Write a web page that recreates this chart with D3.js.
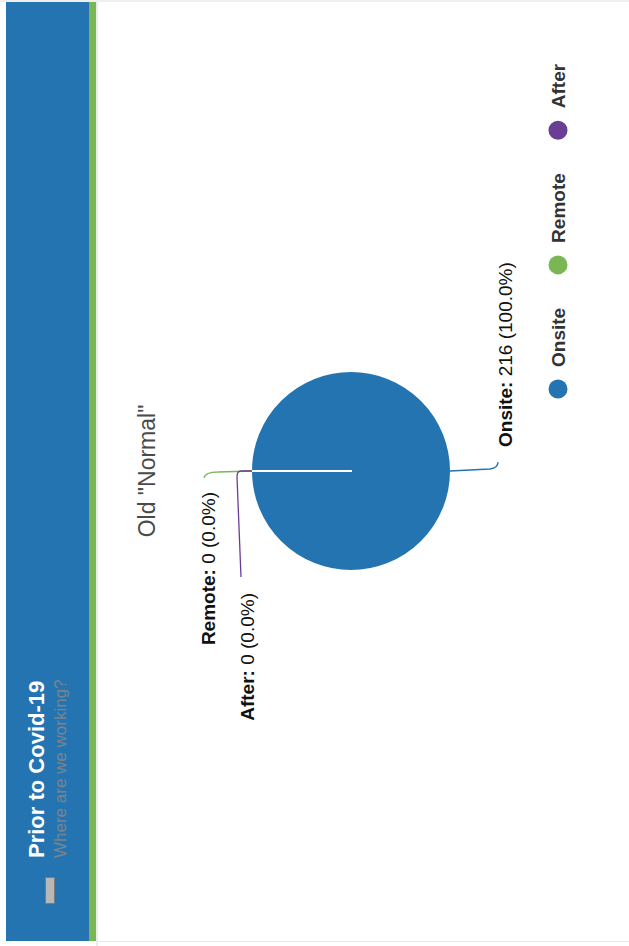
<!DOCTYPE html>
<html>
<head>
<meta charset="utf-8">
<script src="https://cdn.jsdelivr.net/npm/d3@7/dist/d3.min.js"></script>
<style>
  html, body { margin: 0; padding: 0; background: #fff; }
  svg { display: block; }
  text { font-family: "Liberation Sans", Arial, Helvetica, sans-serif; }
</style>
</head>
<body>
<script>
// Work arrangement counts
const categories = ["Onsite", "Remote", "After"];
const values = [216, 0, 0];
const colors = ["#2574b2", "#7bb655", "#6b3e96"];
const chartTitle = 'Old "Normal"';
const headerTitle = "Prior to Covid-19";
const headerSubtitle = "Where are we working?";

const W = 629, H = 946;       // window size
const PW = 946, PH = 629;     // landscape page drawn sideways

const svg = d3.select("body").append("svg")
  .attr("width", W).attr("height", H);

// The landscape page is turned a quarter turn counter-clockwise
const page = svg.append("g")
  .attr("transform", `translate(0,${H}) rotate(-90)`);

// page frame
page.append("rect").attr("x", 0).attr("y", 0).attr("width", PW).attr("height", PH).attr("fill", "#fff");
page.append("rect").attr("x", PW - 2).attr("y", 0).attr("width", 2).attr("height", PH).attr("fill", "#efefef");
page.append("rect").attr("x", 0).attr("y", 96).attr("width", PW - 2).attr("height", 2).attr("fill", "#ececec");
page.append("rect").attr("x", 4).attr("y", 98).attr("width", 1).attr("height", PH - 98).attr("fill", "#e6e6e6");

// header band
page.append("rect").attr("x", 5).attr("y", 6).attr("width", PW - 7).attr("height", 83).attr("fill", "#2574b2");
page.append("rect").attr("x", 5).attr("y", 89).attr("width", PW - 7).attr("height", 7).attr("fill", "#7bb655");
page.append("rect").attr("x", 42.5).attr("y", 45.5).attr("width", 26).attr("height", 9)
  .attr("fill", "#b8b8b8").attr("stroke", "#7a7a7a").attr("stroke-width", 1);
page.append("text").attr("x", 88).attr("y", 44)
  .attr("font-size", 22).attr("font-weight", "bold").attr("fill", "#fff")
  .text(headerTitle);
page.append("text").attr("x", 88).attr("y", 66)
  .attr("font-size", 17).attr("fill", "#7b848d")
  .text(headerSubtitle);

// pie
const cx = 475, cy = 351, R = 100;
const pieGen = d3.pie().sort(null).value(d => d.value);
const arcGen = d3.arc().innerRadius(0).outerRadius(R);
const data = categories.map((c, i) => ({ name: c, value: values[i], color: colors[i] }));
const arcs = pieGen(data);
const total = d3.sum(values);

const pieG = page.append("g").attr("transform", `translate(${cx},${cy})`);

page.append("text").attr("x", cx).attr("y", 155)
  .attr("text-anchor", "middle").attr("font-size", 23).attr("fill", "#4a4a4a")
  .text(chartTitle);

pieG.selectAll("path.slice").data(arcs).enter().append("path")
  .attr("class", "slice")
  .attr("d", arcGen)
  .attr("fill", d => d.data.color)
  .attr("stroke", "#fff").attr("stroke-width", 2)
  .attr("stroke-linejoin", "round");

// label layout: each label gets a connector path relative to its slice edge point
const edgeR = R - 1;
function edgePoint(d) {
  const a = (d.startAngle + d.endAngle) / 2;
  return [Math.sin(a) * edgeR, -Math.cos(a) * edgeR];
}
const labelLayout = {
  Onsite: {
    path: ([x, y]) => `M${x},${y} L${x + 2},${y + 40} Q${x + 3},${y + 48} ${x + 9},${y + 48}`,
    pos: ([x, y]) => [x + 24, y + 62], anchor: "start"
  },
  Remote: {
    path: ([x, y]) => `M${x},${y} L${x - 1},${y - 34} Q${x - 1},${y - 47} ${x - 7},${y - 48}`,
    pos: ([x, y]) => [x - 21, y - 37], anchor: "end"
  },
  After: {
    path: ([x, y]) => `M${x},${y} L${x},${y - 11} Q${x},${y - 15} ${x - 6},${y - 15} L${x - 106},${y - 11}`,
    pos: ([x, y]) => [x - 122, y + 2], anchor: "end"
  }
};

arcs.forEach(d => {
  const lay = labelLayout[d.data.name];
  const p = edgePoint(d);
  pieG.append("path")
    .attr("d", lay.path(p))
    .attr("fill", "none").attr("stroke", d.data.color).attr("stroke-width", 1.3);
  const [lx, ly] = lay.pos(p);
  const pct = total ? (d.data.value / total * 100).toFixed(1) : "0.0";
  const t = pieG.append("text").attr("x", lx).attr("y", ly)
    .attr("text-anchor", lay.anchor).attr("font-size", 19).attr("fill", "#111");
  t.append("tspan").attr("font-weight", "bold").text(d.data.name + ":");
  t.append("tspan").text(` ${d.data.value} (${pct}%)`);
});

// legend
const legend = page.append("g");
let lx = 557;
const lv = 558;
categories.forEach((c, i) => {
  legend.append("circle").attr("cx", lx).attr("cy", lv).attr("r", 9.5).attr("fill", colors[i]);
  const t = legend.append("text").attr("x", lx + 22).attr("y", lv + 7)
    .attr("font-size", 19).attr("font-weight", "bold").attr("fill", "#333")
    .text(c);
  const w = t.node().getComputedTextLength();
  lx = lx + 22 + w + 43;
});
</script>
</body>
</html>
